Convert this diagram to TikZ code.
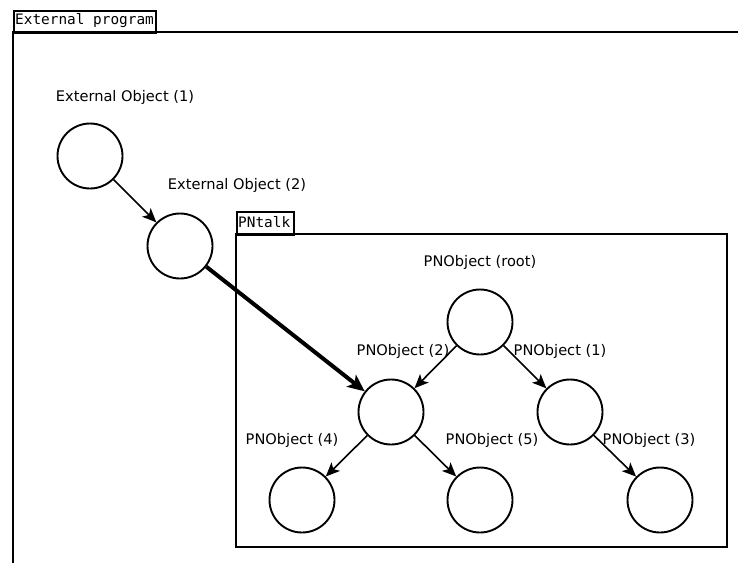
\documentclass[tikz,border=0pt]{standalone}
\usepackage{fontspec}
\setmainfont{DejaVu Sans}
\newfontfamily\monofont{DejaVu Sans Mono}
\usetikzlibrary{arrows.meta}
\begin{document}
\begin{tikzpicture}[x=1pt,y=-1pt,
  obj/.style={circle,draw,line width=1.9pt,minimum size=65pt,inner sep=0pt},
  lbl/.style={font=\fontsize{14.6}{16}\selectfont,inner sep=0pt},
  tab/.style={draw,line width=1.8pt,anchor=north west,inner sep=0pt},
  tabtxt/.style={font=\monofont\fontsize{14.4}{16}\selectfont,anchor=west,inner sep=0pt},
  frame/.style={line width=1.8pt},
  link/.style={line width=1.6pt,-{Stealth[length=14pt,width=12pt,inset=3.5pt]}},
  biglink/.style={line width=4pt,-{Stealth[length=17pt,width=15pt,inset=4pt]}}]
\useasboundingbox[fill=white] (0,0) rectangle (738,563);
% outer frame
\draw[frame] (13,563) -- (13,32) -- (738,32);
\node[tab,minimum width=142pt,minimum height=22pt] (exttab) at (13,10) {};
\node[tabtxt] (exttxt) at (15,21) {External program};
% inner frame
\draw[frame] (236,234) rectangle (727,547);
\node[tab,minimum width=57pt,minimum height=23pt] (pntab) at (236,211) {};
\node[tabtxt] (pntxt) at (238,222.5) {PNtalk};
% objects
\node[obj] (e1) at (90,156) {};
\node[obj] (e2) at (180,246) {};
\node[obj] (root) at (480,322) {};
\node[obj] (p2) at (391,412) {};
\node[obj] (p1) at (570,412) {};
\node[obj] (p4) at (302,500) {};
\node[obj] (p5) at (480,500) {};
\node[obj] (p3) at (660,500) {};
% labels
\node[lbl] (le1) at (125,97) {External Object (1)};
\node[lbl] (le2) at (237,185) {External Object (2)};
\node[lbl] (lroot) at (480,262) {PNObject (root)};
\node[lbl] (lp2) at (403,351) {PNObject (2)};
\node[lbl] (lp1) at (560,351) {PNObject (1)};
\node[lbl] (lp4) at (292,440) {PNObject (4)};
\node[lbl] (lp5) at (492,440) {PNObject (5)};
\node[lbl] (lp3) at (649,440) {PNObject (3)};
% connectors
\draw[link] (e1) -- (e2);
\draw[biglink] (e2) -- (p2);
\draw[link] (root) -- (p2);
\draw[link] (root) -- (p1);
\draw[link] (p2) -- (p4);
\draw[link] (p2) -- (p5);
\draw[link] (p1) -- (p3);
\end{tikzpicture}
\end{document}
